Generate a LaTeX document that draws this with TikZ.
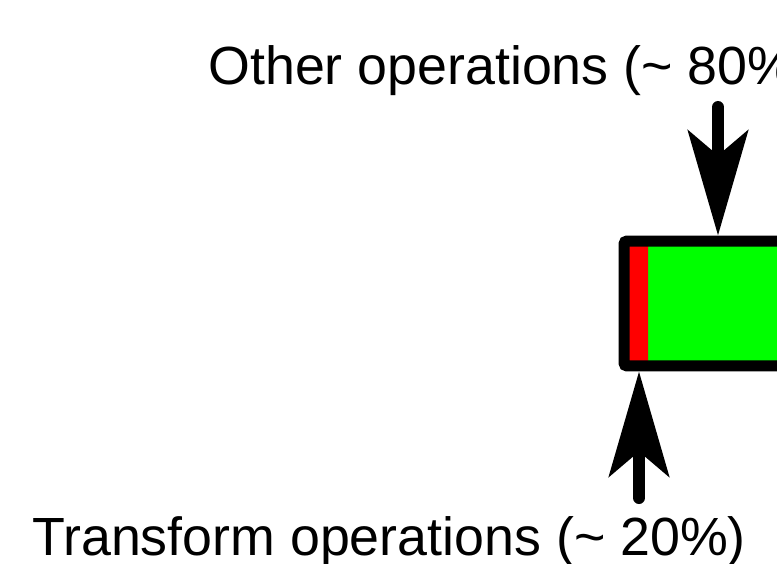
\documentclass[tikz,border=0pt]{standalone}
\usepackage{fontspec}
\setmainfont{Liberation Sans}
\usetikzlibrary{arrows.meta, positioning}

\begin{document}
\begin{tikzpicture}[
    x=0.02cm, y=-0.02cm,
    bar/.style={
        rectangle, draw=black, fill=green, line width=0.22cm,
        rounded corners=0.06cm, inner sep=0pt,
        minimum width=9.52cm, minimum height=2.5cm,
        path picture={\fill[red] (path picture bounding box.north west) rectangle ++(0.48cm,-3cm);}
    },
    pointer/.style={-{Stealth[length=2.1cm, width=1.2cm, inset=0.5cm]}, line width=0.24cm, line cap=round, black},
    caption/.style={font=\fontsize{30.6}{36}\selectfont, inner sep=0pt, anchor=base west}
]

\useasboundingbox (0,0) rectangle (777,564);
\clip (0,0) rectangle (777,564);

% === BAR ===

\node[bar] (bar) at (862,303.5) {};

% === LABELS ===

\node[caption] (other) at (208,85) {Other operations (\textasciitilde{} 80\%)};
\node[caption] (transform) at (32,555) {Transform operations (\textasciitilde{} 20\%)};

\coordinate (otherTail) at (718,107);
\coordinate (transformTail) at (639,498);

% === ARROWS ===

\draw[pointer] (otherTail) -- (otherTail |- bar.north);
\draw[pointer] (transformTail) -- (transformTail |- bar.south);

\end{tikzpicture}
\end{document}
